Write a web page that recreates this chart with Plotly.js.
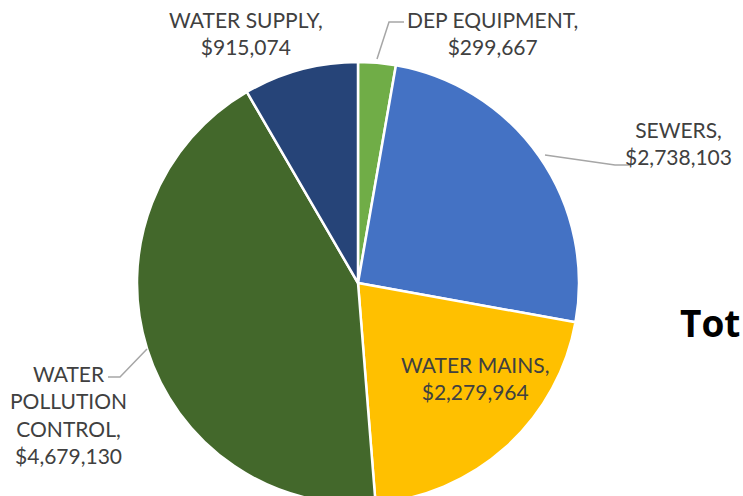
<!DOCTYPE html>
<html>
<head>
<meta charset="utf-8">
<script src="https://cdn.plot.ly/plotly-3.0.1.min.js"></script>
<style>
html, body { margin: 0; padding: 0; overflow: hidden; background: #fff; }
#chart { width: 743px; height: 520px; }
</style>
</head>
<body>
<div id="chart"></div>
<script>
// Data
const categories = ["DEP EQUIPMENT", "SEWERS", "WATER MAINS", "WATER POLLUTION CONTROL", "WATER SUPPLY"];
const values = [299667, 2738103, 2279964, 4679130, 915074];
const displayLabels = ["DEP EQUIPMENT,", "SEWERS,", "WATER MAINS,", "WATER<br>POLLUTION<br>CONTROL,", "WATER SUPPLY,"];
const sliceColors = ["#70AD47", "#4472C4", "#FFC000", "#43682B", "#264478"];
const titleText = "Tot"; // title is cut off at the right edge in the reference

// Layout geometry (pixels)
const W = 743, H = 520;
const cx = 358, cy = 283, R = 221;
const labelPos = [[492, 33], [678, 143], [475, 378], [68, 414], [246, 33]];
const leaderPaths = [
  [[377, 59], [389, 22], [404, 22]],
  [[545, 155], [615, 165], [631, 165]],
  null,
  [[147, 349], [120, 377], [108, 377]],
  null
];

const px = x => x / W;
const py = y => 1 - y / H;
const fmt = v => "$" + v.toLocaleString("en-US");

const trace = {
  type: "pie",
  labels: categories,
  values: values,
  sort: false,
  direction: "clockwise",
  rotation: 0,
  textinfo: "none",
  hoverinfo: "none",
  marker: { colors: sliceColors, line: { color: "#FFFFFF", width: 2.5 } },
  domain: { x: [px(cx - R), px(cx + R)], y: [py(cy + R), py(cy - R)] },
  showlegend: false
};

const annotations = categories.map((c, i) => ({
  xref: "paper", yref: "paper",
  x: px(labelPos[i][0]), y: py(labelPos[i][1]),
  xanchor: "center", yanchor: "middle", align: "center",
  text: displayLabels[i] + "<br>" + fmt(values[i]),
  showarrow: false,
  font: { family: "Lato, 'Open Sans', sans-serif", size: 21, color: "#404040" }
}));

annotations.push({
  xref: "paper", yref: "paper",
  x: px(678), y: py(322),
  xanchor: "left", yanchor: "middle",
  text: "<b>" + titleText + "</b>",
  showarrow: false,
  font: { family: "'Open Sans', Lato, sans-serif", size: 37, color: "#000000" }
});

const shapes = leaderPaths.filter(p => p).map(p => ({
  type: "path",
  xref: "paper", yref: "paper",
  path: p.map((pt, j) => (j ? "L" : "M") + px(pt[0]) + "," + py(pt[1])).join(" "),
  line: { color: "#A6A6A6", width: 1.5 }
}));

const layout = {
  width: W, height: H,
  margin: { l: 0, r: 0, t: 0, b: 0, pad: 0 },
  paper_bgcolor: "#FFFFFF",
  annotations: annotations,
  shapes: shapes
};

Plotly.newPlot("chart", [trace], layout, { staticPlot: true, displayModeBar: false });
</script>
</body>
</html>
